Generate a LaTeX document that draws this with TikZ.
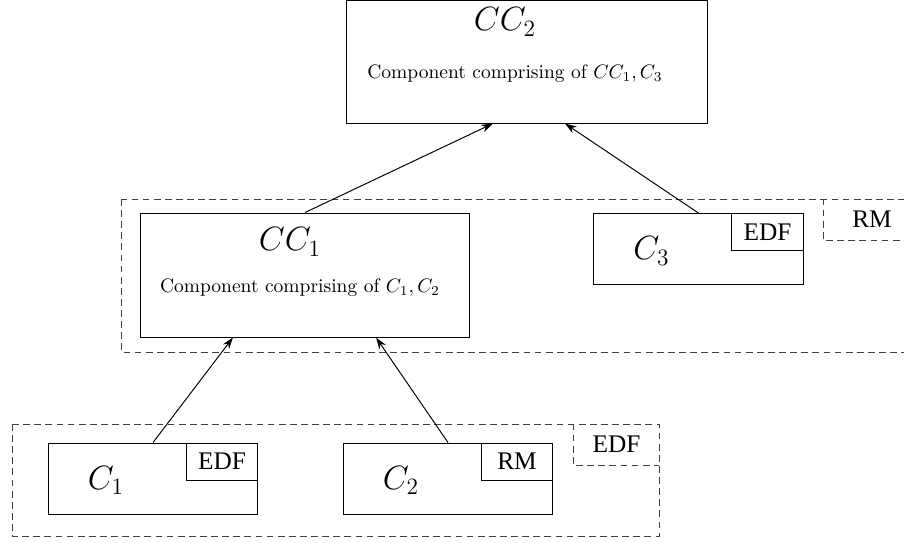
\documentclass[tikz,border=0pt]{standalone}
\usepackage{fontspec}
\usepackage{amsmath}
\usetikzlibrary{arrows.meta,calc}
\newfontfamily\tagfont{Liberation Serif}

\tikzset{
  grp/.style={draw=black!75, dash pattern=on 3.5pt off 2.2pt},
  ccbox/.style={draw, inner sep=0pt},
  compbox/.style={draw, inner sep=0pt, minimum width=107.7pt, minimum height=36.4pt},
  polbox/.style={draw, inner sep=0pt, minimum width=36.9pt, minimum height=19pt, font=\tagfont\fontsize{13}{15}\selectfont},
  tagbox/.style={inner sep=0pt, minimum width=49.2pt, minimum height=21pt, font=\tagfont\fontsize{13}{15}\selectfont},
  big/.style={inner sep=0pt, font=\LARGE},
  link/.style={-{Stealth[length=6pt,width=4pt]}}
}

\begin{document}
\begin{tikzpicture}[x=0.513pt, y=-0.513pt, line width=0.5pt]
\useasboundingbox (0,0) rectangle (904,542);
% scheduling groups
\draw[grp] (121,199) rectangle (960,352);
\draw[grp] (12,424) rectangle (659,536);
\node[tagbox] (rmtag) at (872,219.5) {RM};
\draw[grp] (rmtag.north west) |- (rmtag.south east);
\node[tagbox, minimum width=43.6pt] (edftag) at (616.5,444.5) {EDF};
\draw[grp] (edftag.north west) |- (edftag.south east);

% composite components
\node[ccbox, minimum width=184.7pt, minimum height=63.1pt] (cc2) at (527,61.5) {};
\node[big] (cc2l) at (505,22) {$CC_2$};
\node (cc2t) at (515,74) {Component comprising of $CC_1, C_3$};
\node[ccbox, minimum width=168.3pt, minimum height=63.6pt] (cc1) at (305,275) {};
\node[big] (cc1l) at (290,242) {$CC_1$};
\node (cc1t) at (300,288) {Component comprising of $C_1, C_2$};

% leaf components
\foreach \n/\cx/\cy/\pol in {1/153/478.5/EDF, 2/448/478.5/RM, 3/698.5/249/EDF} {
  \node[compbox] (c\n) at (\cx,\cy) {};
  \node[polbox, anchor=north east] (p\n) at (c\n.north east) {\pol};
  \node[big] (c\n l) at ($(c\n.center)+(-47,2)$) {$C_\n$};
}

% arrows
\draw[link] (c1.north) -- ($(cc1.south)+(-72,0)$);
\draw[link] (c2.north) -- ($(cc1.south)+(71,0)$);
\draw[link] (cc1.north) -- ($(cc2.south)+(-34,0)$);
\draw[link] (c3.north) -- ($(cc2.south)+(38,0)$);
\end{tikzpicture}
\end{document}
